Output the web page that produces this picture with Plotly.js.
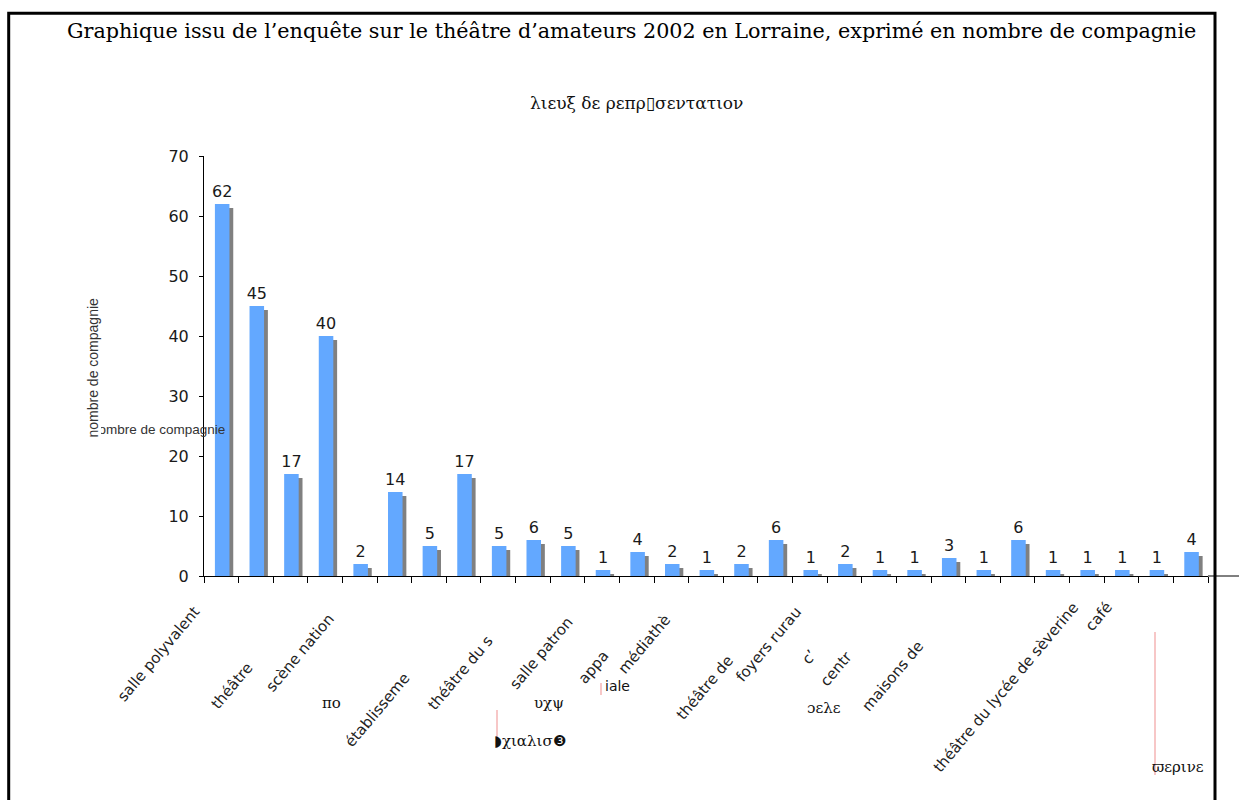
<!DOCTYPE html>
<html>
<head>
<meta charset="utf-8">
<script src="https://cdn.plot.ly/plotly-3.0.1.min.js"></script>
<style>body { margin: 0; background: #fff; }</style>
</head>
<body>
<div id="plot" style="width:1239px;height:800px"></div>
<script>
// nombre de compagnies par lieu de representation
var compagnies = [62, 45, 17, 40, 2, 14, 5, 17, 5, 6, 5, 1, 4, 2, 1, 2, 6, 1, 2, 1, 1, 3, 1, 6, 1, 1, 1, 1, 4]

// etiquettes des lieux, tronquees comme dans l'original
var etiquettes = ["salle polyvalent", "théâtre", "scène nation", "établisseme", "théâtre du s",
    "salle patron", "appa", "médiathè", "théâtre de", "foyers rurau", "c’", "centr",
    "maisons de", "théâtre du lycée de sèverine", "café"]

// morceaux de texte en police symbole qui trainent sous l'axe
var fragments = ["πο", "υχψ", "◗χιαλισ❸", "iale", "ɔελε", "ϖερινε"]

var titre = "Graphique issu de l’enquête sur le théâtre d’amateurs 2002 en Lorraine, exprimé en nombre de compagnie"
var sousTitre = "λιευξ δε ρεπρ▯σεντατιον"
var titreY = "nombre de compagnie"

// positions en pixels (coin haut droit des etiquettes tournees, centre des fragments)
var posEtiquettes = [[205, 602], [258, 658], [339, 609], [415, 668], [498, 631], [578, 612],
    [614, 646], [676, 610], [738, 651], [807, 602], [822, 645], [857, 646], [929, 636],
    [1084, 597], [1118, 597]]
var posFragments = [[331, 703], [549, 703], [530, 741], [617, 686], [824, 708], [1178, 767]]
var traitsRoses = [[497, 710, 748], [601, 683, 695], [1155, 632, 775]]

var L = 204, T = 156, W = 1004, H = 420
function px(x) { return (x - L) / W }
function py(y) { return (T + H - y) / H }

var rang = compagnies.map((v, i) => i)

var ombre = {
    x: rang,
    y: compagnies,
    type: "bar",
    yaxis: "y",
    width: 0.42,
    offset: -0.075,
    marker: {color: "#808080"},
    hoverinfo: "skip"
}

var barres = {
    x: rang,
    y: compagnies,
    type: "bar",
    yaxis: "y2",
    width: 0.42,
    offset: -0.185,
    marker: {color: "#63a8ff"},
    text: compagnies.map(String),
    textposition: "outside",
    textangle: 0,
    constraintext: "none",
    cliponaxis: false,
    textfont: {family: "DejaVu Sans", size: 16, color: "#1a1a1a"}
}

var annotations = [
    {text: titre, x: px(631), y: py(31), font: {family: "DejaVu Serif", size: 20.7, color: "#000"}},
    {text: sousTitre, x: px(636), y: py(103), font: {family: "DejaVu Serif", size: 17, color: "#111"}},
    {text: titreY, x: px(227), y: py(429), xanchor: "right",
        font: {family: "Liberation Sans", size: 13.5, color: "#333"}},
    {text: titreY, x: px(92.5), y: py(368), textangle: -90, bgcolor: "#fff", borderpad: 0,
        font: {family: "Liberation Sans", size: 14, color: "#333"}}
]

etiquettes.forEach(function (t, i) {
    annotations.push({
        text: t, x: px(posEtiquettes[i][0]), y: py(posEtiquettes[i][1]),
        xanchor: "right", yanchor: "top", textangle: -50, borderpad: 0,
        font: {family: "DejaVu Sans", size: 15, color: "#222"}
    })
})

fragments.forEach(function (t, i) {
    annotations.push({
        text: t, x: px(posFragments[i][0]), y: py(posFragments[i][1]),
        font: t == "iale" ? {family: "DejaVu Sans", size: 14, color: "#111"}
            : {family: "DejaVu Serif", size: 15, color: "#111"}
    })
})

annotations.forEach(function (a) {
    a.xref = "paper"
    a.yref = "paper"
    a.showarrow = false
    if (!a.xanchor) a.xanchor = "center"
    if (!a.yanchor) a.yanchor = "middle"
})

var shapes = [
    {type: "rect", xref: "paper", yref: "paper", x0: px(8.7), x1: px(1215), y0: py(830), y1: py(13.3),
        line: {color: "#000", width: 3}},
    {type: "line", xref: "paper", yref: "paper", x0: 1, x1: px(1239), y0: 0, y1: 0,
        line: {color: "#000", width: 1}}
]
traitsRoses.forEach(function (t) {
    shapes.push({type: "line", xref: "paper", yref: "paper", x0: px(t[0]), x1: px(t[0]),
        y0: py(t[1]), y1: py(t[2]), line: {color: "#f5b5b5", width: 1.5}})
})

var layout = {
    width: 1239,
    height: 800,
    margin: {l: L, r: 1239 - L - W, t: T, b: 800 - T - H},
    paper_bgcolor: "#fff",
    plot_bgcolor: "#fff",
    showlegend: false,
    barmode: "overlay",
    xaxis: {
        range: [-0.5, 28.5],
        tickmode: "linear", tick0: -0.5, dtick: 1,
        showticklabels: false,
        ticks: "outside", ticklen: 6, tickcolor: "#000",
        showline: true, linecolor: "#000", linewidth: 1,
        showgrid: false, zeroline: false
    },
    yaxis: {range: [0.667, 70.667], visible: false, showgrid: false, zeroline: false},
    yaxis2: {
        overlaying: "y", side: "left",
        range: [0, 70], tickmode: "linear", tick0: 0, dtick: 10,
        ticks: "outside", ticklen: 4, tickcolor: "#000",
        ticklabelstandoff: 7,
        tickfont: {family: "DejaVu Sans", size: 16, color: "#1a1a1a"},
        showline: true, linecolor: "#000", linewidth: 1,
        showgrid: false, zeroline: false
    },
    annotations: annotations,
    shapes: shapes
}

Plotly.newPlot("plot", [ombre, barres], layout, {displayModeBar: false, staticPlot: true})
</script>
</body>
</html>
